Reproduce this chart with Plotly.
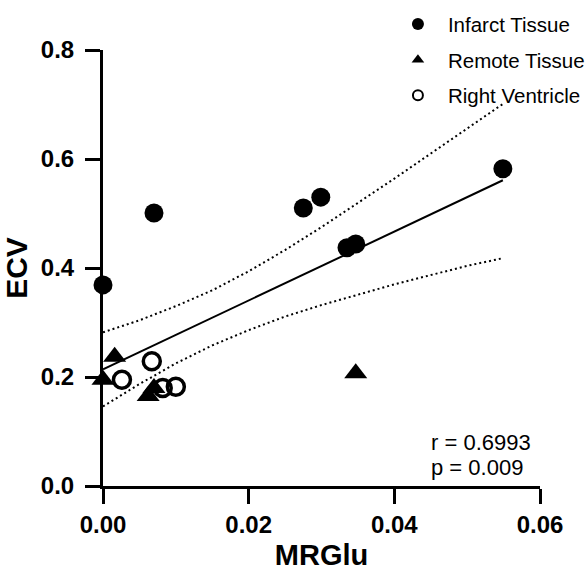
import plotly.graph_objects as go

# ---- data ----
infarct_x = [0.0000, 0.0070, 0.0275, 0.0299, 0.0335, 0.0347, 0.0549]
infarct_y = [0.369, 0.501, 0.510, 0.530, 0.437, 0.444, 0.582]

remote_x = [0.0000, 0.0016, 0.0062, 0.0070, 0.0347]
remote_y = [0.195, 0.237, 0.165, 0.180, 0.207]

rv_x = [0.0026, 0.0067, 0.0082, 0.0100]
rv_y = [0.195, 0.229, 0.180, 0.182]

fit_x = [0.0, 0.0549]
fit_y = [0.214, 0.561]

band_x = [0.0, 0.005, 0.010, 0.015, 0.020, 0.025, 0.030, 0.035, 0.040, 0.045, 0.050, 0.0549]
band_upper = [0.282, 0.304, 0.330, 0.359, 0.394, 0.433, 0.475, 0.519, 0.564, 0.610, 0.656, 0.701]
band_lower = [0.146, 0.187, 0.225, 0.258, 0.286, 0.311, 0.332, 0.351, 0.370, 0.387, 0.404, 0.418]

x_ticks = [0.00, 0.02, 0.04, 0.06]
x_ticktext = ["0.00", "0.02", "0.04", "0.06"]
y_ticks = [0.0, 0.2, 0.4, 0.6, 0.8]
y_ticktext = ["0.0", "0.2", "0.4", "0.6", "0.8"]

stats_text = ["r = 0.6993", "p = 0.009"]

FONT = "Liberation Sans, Arial, sans-serif"

fig = go.Figure()

# confidence bands (dotted)
for yb in (band_upper, band_lower):
    fig.add_trace(go.Scatter(x=band_x, y=yb, mode="lines",
                             line=dict(color="black", width=2, dash="2px,3px"),
                             showlegend=False, hoverinfo="skip"))
# regression line
fig.add_trace(go.Scatter(x=fit_x, y=fit_y, mode="lines",
                         line=dict(color="black", width=2),
                         showlegend=False, hoverinfo="skip"))

# data points
fig.add_trace(go.Scatter(x=infarct_x, y=infarct_y, mode="markers",
                         marker=dict(symbol="circle", size=19, color="black"),
                         showlegend=False, cliponaxis=False))
fig.add_trace(go.Scatter(x=remote_x, y=remote_y, mode="markers",
                         marker=dict(symbol="triangle-up", size=20, color="black"),
                         showlegend=False, cliponaxis=False))
fig.add_trace(go.Scatter(x=rv_x, y=rv_y, mode="markers",
                         marker=dict(symbol="circle-open", size=17, color="black",
                                     line=dict(width=3.5, color="black")),
                         showlegend=False, cliponaxis=False))

# legend entries (smaller symbols, like the reference legend)
fig.add_trace(go.Scatter(x=[None], y=[None], mode="markers", name="Infarct Tissue",
                         legendgroup="a",
                         marker=dict(symbol="circle", size=12, color="black")))
fig.add_trace(go.Scatter(x=[None], y=[None], mode="markers", name="Remote Tissue",
                         legendgroup="b",
                         marker=dict(symbol="triangle-up", size=11, color="black")))
fig.add_trace(go.Scatter(x=[None], y=[None], mode="markers", name="Right Ventricle",
                         legendgroup="c",
                         marker=dict(symbol="circle-open", size=10, color="black",
                                     line=dict(width=2, color="black"))))

axis_common = dict(
    showline=True, linecolor="black", linewidth=3,
    ticks="outside", ticklen=15, tickwidth=3, tickcolor="black",
    showgrid=False, zeroline=False,
    tickfont=dict(family=FONT, size=24, color="black", weight="bold"),
)

fig.update_xaxes(range=[0, 0.06], tickvals=x_ticks, ticktext=x_ticktext,
                 title=dict(text="MRGlu", standoff=12,
                            font=dict(family=FONT, size=29, color="black", weight="bold")),
                 **axis_common)
fig.update_yaxes(range=[0, 0.8], tickvals=y_ticks, ticktext=y_ticktext,
                 ticklabelstandoff=6,
                 title=dict(text="ECV", standoff=6,
                            font=dict(family=FONT, size=30, color="black", weight="bold")),
                 **axis_common)

for i, t in enumerate(stats_text):
    fig.add_annotation(x=0.745, y=0.10 - i * 0.058, xref="paper", yref="paper",
                       text=t, showarrow=False, xanchor="left", yanchor="middle",
                       font=dict(family=FONT, size=22, color="black"))

fig.update_layout(
    width=587, height=571,
    margin=dict(l=103, r=47, t=50, b=85, autoexpand=False),
    plot_bgcolor="white", paper_bgcolor="white",
    showlegend=True,
    legend=dict(x=0.652, y=1.105, xanchor="left", yanchor="top",
                font=dict(family=FONT, size=20.5, color="black"),
                bgcolor="rgba(0,0,0,0)", tracegroupgap=6, itemwidth=50),
)

fig.write_html("out.html")
